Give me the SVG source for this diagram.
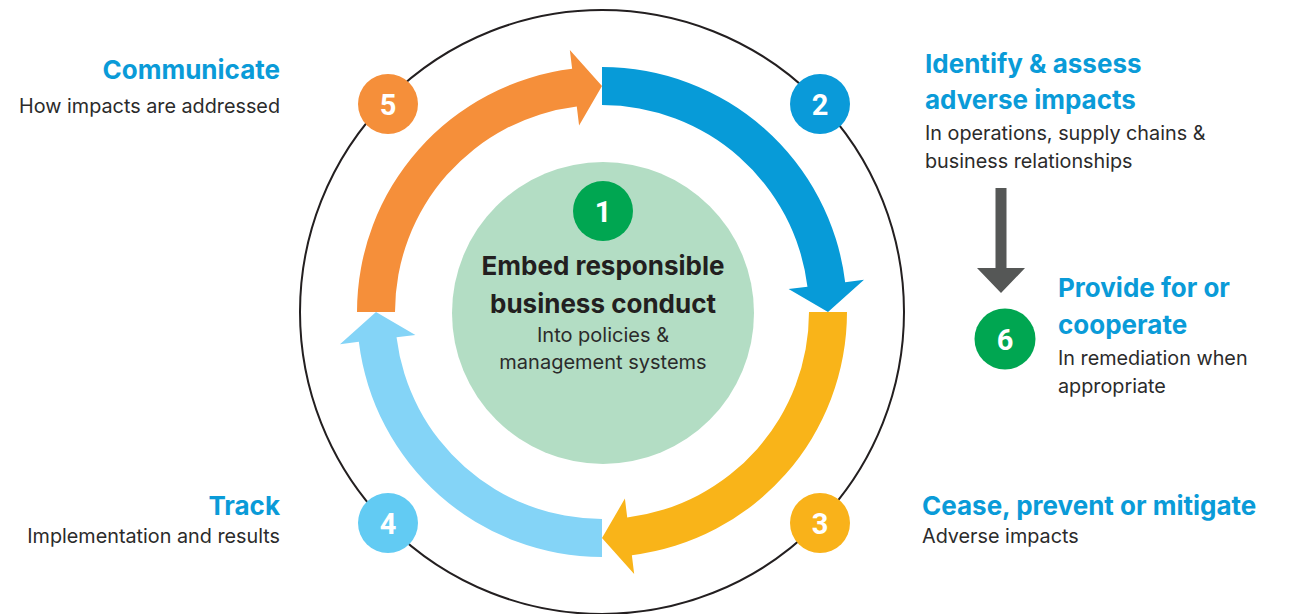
<svg xmlns="http://www.w3.org/2000/svg" xmlns:xlink="http://www.w3.org/1999/xlink" width="1290" height="614" viewBox="0 0 1290 614">
<style>
.h{font-family:Inter,"Noto Sans","Liberation Sans",sans-serif;font-weight:700;font-size:26px;fill:#0A9BD8}
.b{font-family:Inter,"Noto Sans","Liberation Sans",sans-serif;font-weight:400;font-size:19.8px;fill:#2B2B2B}
.ch{font-family:Inter,"Noto Sans","Liberation Sans",sans-serif;font-weight:700;font-size:26px;fill:#231F20;text-anchor:middle}
.cb{font-family:Inter,"Noto Sans","Liberation Sans",sans-serif;font-weight:400;font-size:20px;fill:#2B2B2B;text-anchor:middle}
.num{font-family:Roboto,"Liberation Sans",sans-serif;font-weight:700;font-size:29px;fill:#FFFFFF;text-anchor:middle}
.r{text-anchor:end}
</style>
<defs>
<path id="ringArrow" d="M 357 312 A 245 245 0 0 1 572.14 68.83 L 569.83 49.97 L 602 86 L 579.09 125.40 L 576.77 106.54 A 207 207 0 0 0 395 312 Z"/>
</defs>
<rect width="1290" height="614" fill="#FFFFFF"/>
<circle id="outer-ring" cx="602" cy="312" r="302" fill="none" stroke="#231F20" stroke-width="2"/>
<g id="connectors">
<use xlink:href="#ringArrow" fill="#F58F3A"/>
<use xlink:href="#ringArrow" fill="#079BD8" transform="rotate(90 602 312)"/>
<use xlink:href="#ringArrow" fill="#F9B419" transform="rotate(180 602 312)"/>
<use xlink:href="#ringArrow" fill="#84D4F7" transform="rotate(270 602 312)"/>
<path d="M 995.5 188 H 1006.5 V 268 H 1025 L 1001 293 L 977 268 H 995.5 Z" fill="#555756"/>
</g>
<g id="step1">
<circle cx="603" cy="313" r="151" fill="#B3DDC4"/>
<circle cx="603" cy="211" r="30" fill="#00A651"/>
<text class="num" x="603" y="222">1</text>
<text class="ch" x="603" y="275">Embed responsible</text>
<text class="ch" x="603" y="313">business conduct</text>
<text class="cb" x="603" y="342">Into policies &amp;</text>
<text class="cb" x="603" y="369">management systems</text>
</g>
<g id="step2">
<circle cx="820" cy="104" r="30" fill="#0A9AD9"/>
<text class="num" x="820" y="115">2</text>
<text class="h" x="925" y="73">Identify &amp; assess</text>
<text class="h" x="925" y="109">adverse impacts</text>
<text class="b" x="925" y="140">In operations, supply chains &amp;</text>
<text class="b" x="925" y="168">business relationships</text>
</g>
<g id="step3">
<circle cx="820" cy="523" r="30" fill="#F9B21A"/>
<text class="num" x="820" y="534">3</text>
<text class="h" x="922" y="515">Cease, prevent or mitigate</text>
<text class="b" x="922" y="543">Adverse impacts</text>
</g>
<g id="step4">
<circle cx="388" cy="523" r="30" fill="#62CBF3"/>
<text class="num" x="388" y="534">4</text>
<text class="h r" x="280" y="515">Track</text>
<text class="b r" x="280" y="543">Implementation and results</text>
</g>
<g id="step5">
<circle cx="388" cy="104" r="30" fill="#F58F3A"/>
<text class="num" x="388" y="115">5</text>
<text class="h r" x="280" y="79">Communicate</text>
<text class="b r" x="280" y="113">How impacts are addressed</text>
</g>
<g id="step6">
<circle cx="1005" cy="339" r="30.5" fill="#00A651"/>
<text class="num" x="1005" y="350">6</text>
<text class="h" x="1058" y="297">Provide for or</text>
<text class="h" x="1058" y="334">cooperate</text>
<text class="b" x="1058" y="365">In remediation when</text>
<text class="b" x="1058" y="393">appropriate</text>
</g>
</svg>
